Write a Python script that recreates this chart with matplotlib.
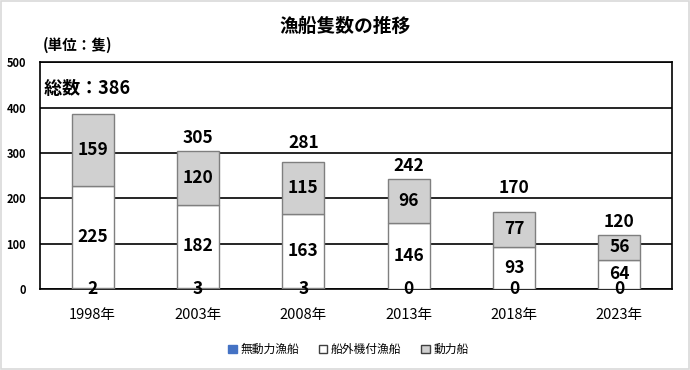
import numpy as np
import matplotlib.pyplot as plt
from matplotlib.patches import Patch, Rectangle

plt.rcParams['font.family'] = ['Noto Sans CJK JP', 'DejaVu Sans']

years = ['1998年', '2003年', '2008年', '2013年', '2018年', '2023年']
mudoryoku = [2, 3, 3, 0, 0, 0]
sengaiki = [225, 182, 163, 146, 93, 64]
doryoku = [159, 120, 115, 96, 77, 56]
totals = [386, 305, 281, 242, 170, 120]

fig = plt.figure(figsize=(6.9, 3.7), dpi=100)
ax = fig.add_axes([0.058, 0.219, 0.916, 0.613])

x = np.arange(len(years))
w = 0.4
ec = '#7f7f7f'
b1 = np.array(mudoryoku)
b2 = b1 + np.array(sengaiki)

ax.bar(x, mudoryoku, w, color='#4472c4', edgecolor=ec, linewidth=1, zorder=3)
ax.bar(x, sengaiki, w, bottom=b1, color='white', edgecolor=ec, linewidth=1, zorder=3)
ax.bar(x, doryoku, w, bottom=b2, color='#d0d0d0', edgecolor=ec, linewidth=1, zorder=3)

lab = dict(ha='center', va='center', fontsize=12.5, fontweight='bold', zorder=4)
for i in range(len(years)):
    ax.text(x[i], 0, str(mudoryoku[i]), **lab)
    ax.text(x[i], b1[i] + sengaiki[i] / 2, str(sengaiki[i]), **lab)
    ax.text(x[i], b2[i] + doryoku[i] / 2, str(doryoku[i]), **lab)
    if i > 0:
        # 合計ラベル: 目盛線に重なる場合は線の上へ
        y = totals[i] + 28
        g = np.ceil(totals[i] / 100) * 100
        if abs(y - g) < 15:
            y = g + 22
        ax.text(x[i], y, str(totals[i]), **lab)

ax.text(-0.5, 443, ' 総数：%d' % totals[0], ha='left', va='center',
        fontsize=13, fontweight='bold', zorder=4)

ax.set_xlim(-0.5, len(years) - 0.5)
ax.set_ylim(0, 500)
ax.set_yticks(range(0, 501, 100))
ax.set_xticks(x)
ax.set_xticklabels(years, fontsize=10.5)
for t in ax.get_yticklabels():
    t.set_fontsize(8)
    t.set_fontweight('bold')
ax.tick_params(axis='x', length=0, pad=14)
ax.tick_params(axis='y', length=0, pad=10)
ax.grid(axis='y', color='black', linewidth=1.2, zorder=1)
for s in ax.spines.values():
    s.set_color('black')
    s.set_linewidth(1.2)

fig.text(0.5, 0.928, '漁船隻数の推移', ha='center', va='center',
         fontsize=13.5, fontweight='bold')
fig.text(0.062, 0.88, '(単位：隻)', ha='left', va='center',
         fontsize=10.5, fontweight='bold')

handles = [Patch(facecolor='#4472c4', edgecolor='#4472c4'),
           Patch(facecolor='white', edgecolor='#404040'),
           Patch(facecolor='#d0d0d0', edgecolor='#404040')]
fig.legend(handles, ['無動力漁船', '船外機付漁船', '動力船'], loc='center',
           bbox_to_anchor=(0.505, 0.055), ncol=3, frameon=False, fontsize=8.5,
           handlelength=0.7, handleheight=0.7, handletextpad=0.3,
           columnspacing=1.7)

fig.patches.append(Rectangle((0.002, 0.003), 0.996, 0.994, transform=fig.transFigure,
                             fill=False, edgecolor='#d9d9d9', linewidth=1.2))

fig.savefig('out.png', dpi=100)
